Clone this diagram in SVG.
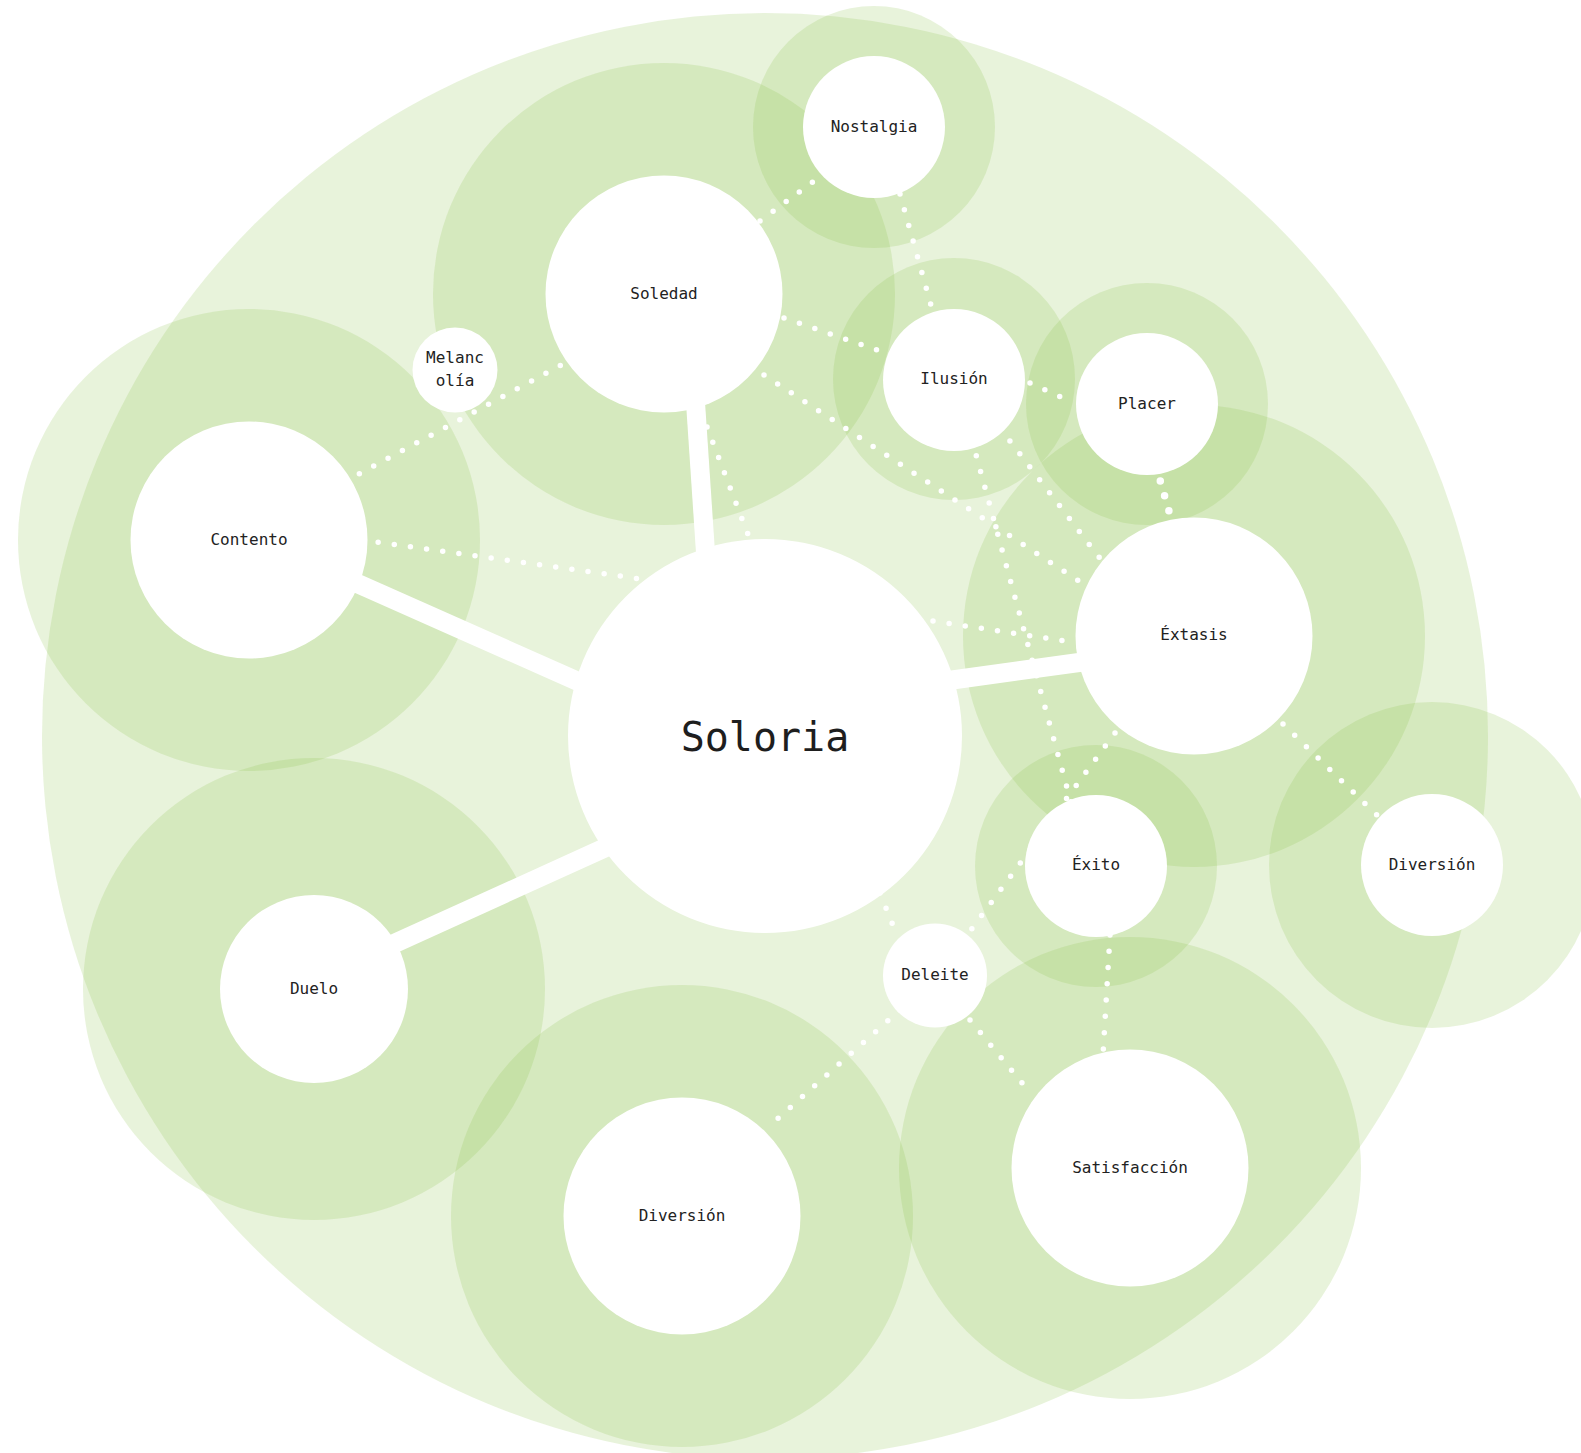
<svg xmlns="http://www.w3.org/2000/svg" width="1581" height="1453" viewBox="0 0 1581 1453">
<style>
.bg{fill:#8bc34a;fill-opacity:0.2}
.halo{fill:#8bc34a;fill-opacity:0.2}
.node{fill:#ffffff}
.thick{stroke:#ffffff;stroke-width:19;fill:none}
.dot{stroke:#ffffff;stroke-width:5.5;stroke-linecap:round;stroke-dasharray:0 16.3;fill:none}
.dotb{stroke:#ffffff;stroke-width:7.5;stroke-linecap:round;stroke-dasharray:0 15.5;fill:none}
.label{font-family:"DejaVu Sans Mono","Liberation Mono",monospace;font-size:16px;fill:#222;text-anchor:middle}
.title{font-family:"DejaVu Sans Mono","Liberation Mono",monospace;font-size:40px;fill:#1e1e1e;text-anchor:middle}
</style>
<rect width="1581" height="1453" fill="#ffffff"/>
<circle class="bg" cx="765" cy="736" r="723"/>
<g id="halos">
<circle class="halo" cx="664" cy="294" r="231"/>
<circle class="halo" cx="874" cy="127" r="121"/>
<circle class="halo" cx="249" cy="540" r="231"/>
<circle class="halo" cx="954" cy="379" r="121"/>
<circle class="halo" cx="1147" cy="404" r="121"/>
<circle class="halo" cx="1194" cy="636" r="231"/>
<circle class="halo" cx="1096" cy="866" r="121"/>
<circle class="halo" cx="1432" cy="865" r="163"/>
<circle class="halo" cx="1130" cy="1168" r="231"/>
<circle class="halo" cx="682" cy="1216" r="231"/>
<circle class="halo" cx="314" cy="989" r="231"/>
</g>
<g id="connectors">
<line class="thick" x1="695" y1="395" x2="706" y2="560"/>
<line class="thick" x1="345" y1="578" x2="595" y2="689"/>
<line class="thick" x1="380" y1="950" x2="620" y2="841"/>
<line class="thick" x1="945" y1="681" x2="1090" y2="661"/>
<line class="dot" x1="345" y1="481.5" x2="580" y2="355"/>
<line class="dot" x1="362" y1="540" x2="648" y2="580"/>
<line class="dot" x1="707" y1="427" x2="752" y2="545"/>
<line class="dot" x1="760" y1="221" x2="818" y2="178"/>
<line class="dot" x1="900" y1="194" x2="934" y2="316"/>
<line class="dot" x1="784" y1="318" x2="880" y2="351"/>
<line class="dot" x1="764" y1="375" x2="1085" y2="585"/>
<line class="dot" x1="1030" y1="383" x2="1072" y2="402"/>
<line class="dot" x1="1000" y1="428" x2="1105" y2="565"/>
<line class="dot" x1="972" y1="440" x2="1072" y2="806"/>
<line class="dot" x1="933" y1="621" x2="1078" y2="643"/>
<line class="dotb" x1="1156" y1="466" x2="1171" y2="518"/>
<line class="dot" x1="1115" y1="733" x2="1058" y2="810"/>
<line class="dot" x1="1283" y1="724" x2="1382" y2="820"/>
<line class="dot" x1="1110" y1="935" x2="1103" y2="1055"/>
<line class="dot" x1="1030" y1="850" x2="962" y2="942"/>
<line class="dot" x1="970" y1="1020" x2="1032" y2="1095"/>
<line class="dot" x1="900" y1="1010" x2="766" y2="1129"/>
<line class="dot" x1="880" y1="893" x2="898" y2="938"/>
</g>
<g id="node-soloria"><circle class="node" cx="765" cy="736" r="197"/><text class="title" x="765" y="751">Soloria</text></g>
<g id="node-soledad"><circle class="node" cx="664" cy="294" r="118.5"/><text class="label" x="664" y="298.5">Soledad</text></g>
<g id="node-nostalgia"><circle class="node" cx="874" cy="127" r="71"/><text class="label" x="874" y="131.5">Nostalgia</text></g>
<g id="node-melancolia"><circle class="node" cx="455" cy="370" r="42.5"/><text class="label" x="455" y="362.5">Melanc</text><text class="label" x="455" y="385.5">olía</text></g>
<g id="node-contento"><circle class="node" cx="249" cy="540" r="118.5"/><text class="label" x="249" y="544.5">Contento</text></g>
<g id="node-ilusion"><circle class="node" cx="954" cy="380" r="71"/><text class="label" x="954" y="384">Ilusión</text></g>
<g id="node-placer"><circle class="node" cx="1147" cy="404" r="71"/><text class="label" x="1147" y="408.5">Placer</text></g>
<g id="node-extasis"><circle class="node" cx="1194" cy="636" r="118.5"/><text class="label" x="1194" y="639.5">Éxtasis</text></g>
<g id="node-exito"><circle class="node" cx="1096" cy="866" r="71"/><text class="label" x="1096" y="870">Éxito</text></g>
<g id="node-diversion-right"><circle class="node" cx="1432" cy="865" r="71"/><text class="label" x="1432" y="869.5">Diversión</text></g>
<g id="node-deleite"><circle class="node" cx="935" cy="975.5" r="52"/><text class="label" x="935" y="980">Deleite</text></g>
<g id="node-satisfaccion"><circle class="node" cx="1130" cy="1168" r="118.5"/><text class="label" x="1130" y="1172.5">Satisfacción</text></g>
<g id="node-diversion-bottom"><circle class="node" cx="682" cy="1216" r="118.5"/><text class="label" x="682" y="1220.5">Diversión</text></g>
<g id="node-duelo"><circle class="node" cx="314" cy="989" r="94"/><text class="label" x="314" y="993.5">Duelo</text></g>
</svg>
